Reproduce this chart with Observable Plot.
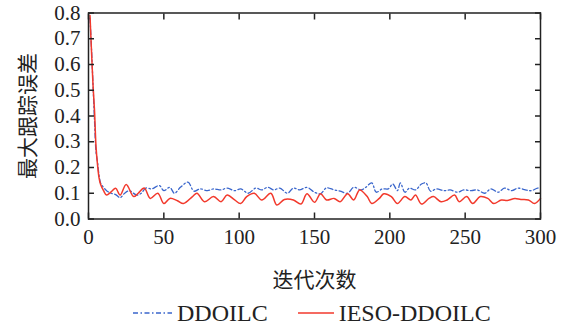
<!DOCTYPE html>
<html><head><meta charset="utf-8">
<script src="https://cdn.jsdelivr.net/npm/d3@7"></script>
<script src="https://cdn.jsdelivr.net/npm/@observablehq/plot@0.6"></script>
<style>
body{margin:0;background:#fff;}
#wrap{position:relative;width:564px;height:329px;background:#fff;}
#legend{position:absolute;left:133px;top:300px;height:26px;display:flex;align-items:center;
  font-family:'Liberation Serif','Times New Roman',serif;font-size:24px;color:#222;}
#legend .item{display:flex;align-items:center;}
#legend svg{display:block;margin-right:5px;}
svg.mychart text{font-family:'Liberation Serif','Times New Roman',serif,'Noto Sans CJK SC' !important;}
</style></head><body>
<div id="wrap"><div id="chart"></div><div id="legend"></div></div>
<script>
const seriesNames = ["DDOILC", "IESO-DDOILC"];
const seriesColors = ["#3a66cc", "#f2392c"];
const xTicks = [0, 50, 100, 150, 200, 250, 300];
const yTicks = [0, 0.1, 0.2, 0.3, 0.4, 0.5, 0.6, 0.7, 0.8];

const ddoilcIter = [1,2,3,4,5,6,7,8,9,12,15,18,21,24,27,32,35,38,42,47,50,54,57,61,66,70,74,79,83,88,92,97,101,106,111,115,119,123,127,132,136,140,145,150,154,158,163,167,172,176,181,184,188,191,195,199,202,205,207,210,213,217,221,224,227,231,236,240,245,249,254,258,263,267,272,276,281,285,290,294,298,300];
const ddoilcErr = [0.78,0.66,0.52,0.38,0.26,0.22,0.17,0.14,0.13,0.11,0.1,0.095,0.083,0.1,0.11,0.093,0.1,0.12,0.117,0.13,0.11,0.123,0.1,0.123,0.143,0.108,0.117,0.11,0.117,0.113,0.12,0.11,0.117,0.1,0.12,0.113,0.123,0.113,0.12,0.1,0.12,0.113,0.123,0.104,0.098,0.121,0.113,0.108,0.1,0.123,0.113,0.123,0.14,0.104,0.117,0.117,0.136,0.11,0.14,0.104,0.12,0.113,0.136,0.14,0.108,0.117,0.11,0.113,0.104,0.113,0.11,0.113,0.1,0.117,0.104,0.12,0.11,0.12,0.113,0.11,0.12,0.12];

const iesoIter = [1,2,3,4,5,6,7,8,10,12,15,18,21,25,30,33,37,41,46,50,54,59,63,69,72,77,83,88,92,97,101,105,110,115,121,125,130,136,141,145,150,154,158,163,167,172,176,180,185,188,193,196,201,205,210,214,217,221,226,229,234,238,243,246,251,255,260,265,269,274,278,283,287,292,296,300];
const iesoErr = [0.79,0.65,0.52,0.42,0.28,0.21,0.16,0.135,0.11,0.093,0.105,0.119,0.093,0.134,0.087,0.1,0.12,0.08,0.1,0.06,0.08,0.071,0.06,0.087,0.1,0.067,0.087,0.067,0.093,0.074,0.06,0.087,0.1,0.074,0.1,0.054,0.076,0.074,0.058,0.098,0.065,0.098,0.074,0.08,0.067,0.098,0.074,0.113,0.087,0.06,0.08,0.098,0.087,0.06,0.087,0.074,0.093,0.058,0.08,0.087,0.067,0.074,0.093,0.067,0.087,0.06,0.087,0.08,0.06,0.074,0.072,0.08,0.076,0.074,0.06,0.08];

const blueRows = ddoilcIter.map((x, i) => ({x, y: ddoilcErr[i]}));
const redRows = iesoIter.map((x, i) => ({x, y: iesoErr[i]}));

const serifFont = "'Liberation Serif','Times New Roman',serif,'Noto Sans CJK SC'";
const chart = Plot.plot({
  width: 564, height: 300,
  marginTop: 12.5, marginLeft: 88, marginRight: 24, marginBottom: 81.5,
  style: {fontFamily: serifFont, fontSize: "21px", color: "#222", background: "transparent"},
  x: {domain: [0, 300]},
  y: {domain: [0, 0.8]},
  marks: [
    Plot.line(blueRows, {x: "x", y: "y", stroke: seriesColors[0], strokeWidth: 1.3, strokeDasharray: "5,2.5,1.5,2.5", curve: "catmull-rom"}),
    Plot.line(redRows, {x: "x", y: "y", stroke: seriesColors[1], strokeWidth: 1.5, curve: "catmull-rom"}),
    Plot.axisX(xTicks, {anchor: "bottom", tickSize: -6, tickPadding: 16, strokeWidth: 1.5, fontFamily: serifFont, label: "迭代次数", labelAnchor: "center", labelOffset: 68, labelArrow: false}),
    Plot.axisX(xTicks, {anchor: "top", tickSize: -6, strokeWidth: 1.5, tickFormat: () => "", label: null}),
    Plot.axisY(yTicks, {anchor: "left", tickSize: -6, tickPadding: 14, strokeWidth: 1.5, fontFamily: serifFont, tickFormat: d3.format(".1f"), label: "最大跟踪误差", labelAnchor: "center", labelOffset: 68, labelArrow: false}),
    Plot.axisY(yTicks, {anchor: "right", tickSize: -6, strokeWidth: 1.5, tickFormat: () => "", label: null}),
    Plot.frame({stroke: "#222", strokeWidth: 1.5})
  ]
});
chart.classList.add("mychart");
document.getElementById("chart").appendChild(chart);

const legend = document.getElementById("legend");
const swatchW = [39, 36];
const gaps = [30, 0];
seriesNames.forEach((name, i) => {
  const item = document.createElement("div");
  item.className = "item";
  item.style.marginRight = gaps[i] + "px";
  const ns = "http://www.w3.org/2000/svg";
  const s = document.createElementNS(ns, "svg");
  s.setAttribute("width", swatchW[i]); s.setAttribute("height", 6);
  const l = document.createElementNS(ns, "line");
  l.setAttribute("x1", 0); l.setAttribute("x2", swatchW[i]);
  l.setAttribute("y1", 3); l.setAttribute("y2", 3);
  l.setAttribute("stroke", seriesColors[i]);
  l.setAttribute("stroke-width", i === 0 ? 1.3 : 1.5);
  if (i === 0) l.setAttribute("stroke-dasharray", "5,2.5,1.5,2.5");
  s.appendChild(l);
  const t = document.createElement("span");
  t.textContent = name;
  item.appendChild(s); item.appendChild(t);
  legend.appendChild(item);
});
</script>
</body></html>
